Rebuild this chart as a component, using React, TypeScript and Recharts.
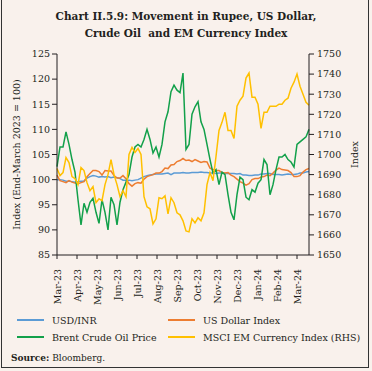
import React from "react";
import { LineChart, Line, XAxis, YAxis } from "recharts";

const monthLabels = ["Mar-23","Apr-23","May-23","Jun-23","Jul-23","Aug-23","Sep-23","Oct-23","Nov-23","Dec-23","Jan-24","Feb-24","Mar-24"];

// Observations (roughly twice a week) from end-March 2023 to March 2024
const usdInr = [100.0,100.0,99.9,99.7,99.7,99.6,99.5,99.6,99.7,99.7,100.3,100.6,100.8,100.7,100.5,100.6,100.5,100.6,100.4,100.5,100.4,100.2,99.9,99.9,99.9,99.8,99.9,100.0,100.3,100.6,100.8,100.9,101.0,101.1,101.1,101.1,101.2,101.3,101.0,101.3,101.3,101.3,101.4,101.3,101.3,101.4,101.4,101.4,101.5,101.4,101.4,101.3,101.3,101.2,101.3,101.3,101.2,101.2,101.2,101.2,101.1,101.2,100.9,100.9,100.8,100.8,100.9,100.9,101.1,101.1,101.2,101.2,101.0,101.0,101.0,100.9,101.0,101.1,101.0,101.0,101.1,101.3,101.3,101.5,101.6];

const dollarIndex = [100.9,99.8,99.6,99.4,99.8,99.5,99.3,99.2,99.4,99.6,100.6,101.2,101.8,101.8,101.6,100.9,101.8,101.7,101.7,100.8,100.3,100.3,100.8,100.2,99.2,98.7,99.2,99.4,99.3,100.1,100.6,100.8,101.0,101.3,101.3,101.6,102.3,102.2,102.9,103.0,103.6,103.8,104.2,103.8,103.9,103.6,104.0,103.7,103.4,103.6,103.5,102.3,102.0,101.8,101.8,101.4,101.3,101.4,100.9,100.6,100.1,99.6,99.3,98.9,99.2,100.0,100.2,100.2,100.5,100.6,100.9,100.8,101.3,101.9,102.3,102.0,101.9,101.8,101.4,100.6,100.6,100.8,101.5,102.0,102.2];

const brent = [102.6,106.5,106.5,109.5,107.0,104.0,101.5,96.0,91.0,95.3,93.5,95.5,96.3,93.5,91.3,96.0,93.5,90.0,96.5,95.0,91.0,95.5,98.0,99.5,101.0,104.5,106.5,107.0,106.5,108.0,110.0,108.0,105.3,106.5,104.5,107.0,111.5,113.5,117.5,118.8,117.8,117.3,121.2,106.0,107.0,113.0,114.5,115.5,111.5,110.0,107.0,104.0,101.3,102.0,99.0,101.5,101.0,97.0,93.5,92.0,97.0,100.5,100.0,96.5,96.0,98.0,97.5,99.3,100.0,104.0,103.0,97.0,99.0,102.0,104.5,104.5,105.0,104.0,103.5,102.5,107.0,107.5,108.0,108.5,110.0];

const msciEm = [1693,1689.5,1691,1698.5,1696,1689,1688,1685,1693.5,1692,1686,1682,1684,1676,1678,1677,1685,1690,1697.5,1690,1685,1679,1682,1679,1700,1703.5,1701,1703,1700,1679,1674,1673,1665.5,1668,1678.5,1678,1679.5,1670.5,1678.5,1676,1671,1670,1667,1662,1661.5,1668,1666,1668.5,1667,1671,1685,1691,1687,1699,1712,1716,1721,1712,1712,1708,1724,1727,1729,1738,1740.5,1728.5,1728.5,1725,1713,1721,1721,1724,1724,1724,1725,1725,1727,1728,1733,1736,1740,1734,1730,1726,1724.5];

const leftTicks = [85, 90, 95, 100, 105, 110, 115, 120, 125];
const rightTicks = [1650, 1660, 1670, 1680, 1690, 1700, 1710, 1720, 1730, 1740, 1750];

const POINTS_PER_MONTH = 20 / 3;

const series = [
  { key: "usdInr", name: "USD/INR", color: "#5b9bd5", axis: "left" },
  { key: "dollarIndex", name: "US Dollar Index", color: "#ed7d31", axis: "left" },
  { key: "brent", name: "Brent Crude Oil Price", color: "#12a04a", axis: "left" },
  { key: "msciEm", name: "MSCI EM Currency Index (RHS)", color: "#ffc000", axis: "right" },
];

const data = usdInr.map((v, i) => ({
  i,
  usdInr: v,
  dollarIndex: dollarIndex[i],
  brent: brent[i],
  msciEm: msciEm[i],
}));

const xTicks = monthLabels.map((_, m) => m * POINTS_PER_MONTH);

const FONT = "'DejaVu Serif', serif";
const INK = "#231f20";
const BG = "#f9f1ec";

const XTick = (props: any) => {
  const { x, y, payload } = props;
  const label = monthLabels[Math.round(payload.value / POINTS_PER_MONTH)];
  return (
    <text
      x={x}
      y={y}
      transform={`rotate(-90, ${x}, ${y})`}
      textAnchor="end"
      dominantBaseline="central"
      fontSize={9.5}
      fontFamily={FONT}
      fill={INK}
    >
      {label}
    </text>
  );
};

export default function App() {
  return (
    <div
      style={{
        position: "absolute",
        left: 0,
        top: 0,
        width: 372,
        height: 371,
        background: BG,
        fontFamily: FONT,
        color: INK,
        overflow: "hidden",
      }}
    >
      <div
        style={{
          position: "absolute",
          left: 1,
          top: -2,
          width: 368,
          height: 370,
          border: "1.5px solid #333",
          boxSizing: "border-box",
        }}
      />
      <div
        style={{
          position: "absolute",
          left: 0,
          top: 8,
          width: 372,
          textAlign: "center",
          fontWeight: "bold",
          fontSize: 10.5,
          lineHeight: "17px",
        }}
      >
        Chart II.5.9: Movement in Rupee, US Dollar,
        <br />
        Crude Oil&nbsp; and EM Currency Index
      </div>
      <div style={{ position: "absolute", left: 0, top: 0 }}>
        <LineChart
          width={372}
          height={371}
          data={data}
          margin={{ top: 54, right: 23, left: 17, bottom: 66 }}
        >
          <XAxis
            dataKey="i"
            type="number"
            domain={[0, data.length - 1]}
            ticks={xTicks}
            interval={0}
            tick={<XTick />}
            tickSize={4}
            tickMargin={10}
            height={50}
            stroke={INK}
            axisLine={{ stroke: INK }}
            tickLine={{ stroke: INK }}
          />
          <YAxis
            yAxisId="left"
            orientation="left"
            domain={[85, 125]}
            ticks={leftTicks}
            interval={0}
            width={40}
            tickSize={5}
            tickMargin={2}
            stroke={INK}
            tick={{ fontSize: 9.5, fontFamily: FONT, fill: INK }}
            label={{
              value: "Index (End-March 2023 = 100)",
              angle: -90,
              position: "insideLeft",
              offset: 0,
              style: { textAnchor: "middle", fontSize: 9.5, fontFamily: FONT, fill: INK },
            }}
          />
          <YAxis
            yAxisId="right"
            orientation="right"
            domain={[1650, 1750]}
            ticks={rightTicks}
            interval={0}
            width={40}
            tickSize={5}
            tickMargin={3}
            stroke={INK}
            tick={{ fontSize: 9.5, fontFamily: FONT, fill: INK }}
            label={{
              value: "Index",
              angle: -90,
              position: "insideRight",
              offset: -6,
              style: { textAnchor: "middle", fontSize: 9.5, fontFamily: FONT, fill: INK },
            }}
          />
          {series.map((s) => (
            <Line
              key={s.key}
              yAxisId={s.axis}
              dataKey={s.key}
              name={s.name}
              stroke={s.color}
              strokeWidth={1.5}
              dot={false}
              type="linear"
              isAnimationActive={false}
            />
          ))}
        </LineChart>
      </div>
      {series.map((s, idx) => {
        const col = idx % 2;
        const row = Math.floor(idx / 2);
        const left = col === 0 ? 17 : 168;
        const top = 314 + row * 17;
        return (
          <div
            key={s.key}
            style={{
              position: "absolute",
              left,
              top,
              height: 12,
              display: "flex",
              alignItems: "center",
              fontSize: 9.5,
              whiteSpace: "nowrap",
            }}
          >
            <span
              style={{
                display: "inline-block",
                width: 27,
                height: 2,
                background: s.color,
                marginRight: 8,
              }}
            />
            {s.name}
          </div>
        );
      })}
      <div
        style={{
          position: "absolute",
          left: 11,
          top: 353,
          fontSize: 9,
          whiteSpace: "nowrap",
        }}
      >
        <b>Source:</b> Bloomberg.
      </div>
    </div>
  );
}
